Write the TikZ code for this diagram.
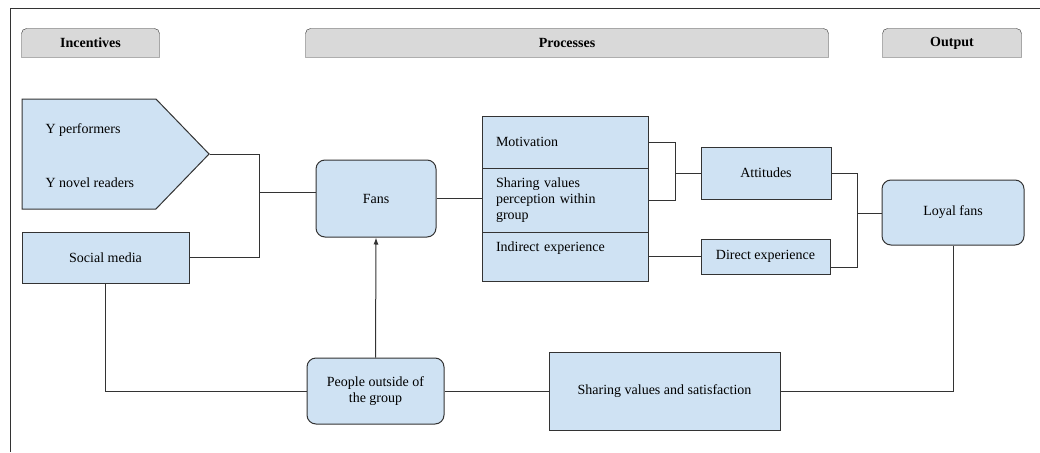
\documentclass[tikz,border=0pt]{standalone}
\usepackage{fontspec}
\setmainfont{Liberation Serif}
\usetikzlibrary{shapes.symbols,arrows.meta,backgrounds}
\definecolor{boxblue}{HTML}{CFE2F3}
\definecolor{hdrgray}{HTML}{D9D9D9}
\definecolor{lineclr}{HTML}{333333}

\begin{document}
\begin{tikzpicture}[x=1pt,y=-1pt,line width=1pt,
    every node/.style={font=\fontsize{14}{16}\selectfont}]

      \useasboundingbox (0,0) rectangle (1040,452);
      \draw[lineclr] (1040,9) -- (10,9) -- (10,452);

      % headers
      \begin{scope}[every node/.style={font=\fontsize{14}{16}\selectfont\bfseries,inner sep=0pt,minimum height=28pt}]
        \node[minimum width=137pt] (inc)  at (90.5,43) {Incentives};
        \node[minimum width=522pt] (proc) at (567,43)  {Processes};
        \node[minimum width=138pt] (out)  at (952,43)  {Output};
      \end{scope}

      \begin{scope}[on background layer]
        \foreach \n in {inc,proc,out}
          \draw[fill=hdrgray,draw=lineclr] (\n.south west) [rounded corners=5pt] -- (\n.north west) -- (\n.north east) [sharp corners] -- (\n.south east) -- cycle;
      \end{scope}

      % boxes
      \begin{scope}[every node/.style={draw=lineclr,fill=boxblue,font=\fontsize{14}{16}\selectfont,align=center,inner sep=0pt},
          cell/.style={minimum width=166pt,text width=138pt,align=left,inner xsep=14pt}]
        \node[signal,signal to=east,signal pointer angle=92,minimum width=187pt,minimum height=110pt] (yy) at (89,154) {};
        \node[minimum width=167pt,minimum height=51pt] (soc) at (105.5,257.5) {Social media};
        \node[rounded corners=9pt,minimum width=120pt,minimum height=77pt] (fans) at (376,198.5) {Fans};
        \node[rounded corners=9pt,minimum width=137pt,minimum height=66pt] (ppl) at (375.5,391) {People outside of\\the group};
        \node[cell,minimum height=52pt] (mot) at (565,142) {Motivation};
        \node[cell,minimum height=64pt] (shr) at (565,200) {Sharing values\\perception within\\group};
        \node[cell,minimum height=49pt] (ind) at (565,256.5) {Indirect experience\\[4pt]\mbox{}};
        \node[minimum width=130pt,minimum height=52pt] (att) at (766,173) {Attitudes};
        \node[minimum width=129pt,minimum height=35pt] (dir) at (765.5,256.5) {Direct experience};
        \node[rounded corners=9pt,minimum width=142pt,minimum height=65pt] (loy) at (953,212.5) {Loyal fans};
        \node[minimum width=231pt,minimum height=78pt] (sv) at (664.5,391) {Sharing values and satisfaction};
      \end{scope}

      \begin{scope}[every node/.style={font=\fontsize{14}{16}\selectfont,anchor=west,inner sep=0pt}]
        \node (yperf) at (45,130) {Y performers};
        \node (ynov)  at (45,183) {Y novel readers};
      \end{scope}

      % connectors
      \coordinate (j1) at (259,192);
      \coordinate (j2) at (675,173);
      \coordinate (j3) at (857,213);

      \begin{scope}[lineclr]
        \draw (yy.east) -| (j1);
        \draw (soc.east) -| (j1);
        \draw (j1) -- (j1 -| fans.west);
        \draw (fans.east) -- (fans.east -| shr.west);
        \draw (mot.east) -| (j2);
        \draw (shr.east) -| (j2);
        \draw (j2) -- (att.west);
        \draw (ind.east) -- (dir.west);
        \draw (att.east) -| (j3);
        \draw ([yshift=-11pt]dir.east) -| (j3);
        \draw (j3) -- (j3 -| loy.west);
        \draw (loy.south) |- (sv.east);
        \draw (ppl.east) -- (sv.west);
        \draw (soc.south) |- (ppl.west);
        \draw[-{Latex[length=7pt,width=5pt]}] (ppl.north) -- (fans.south);
      \end{scope}

    \end{tikzpicture}
\end{document}
